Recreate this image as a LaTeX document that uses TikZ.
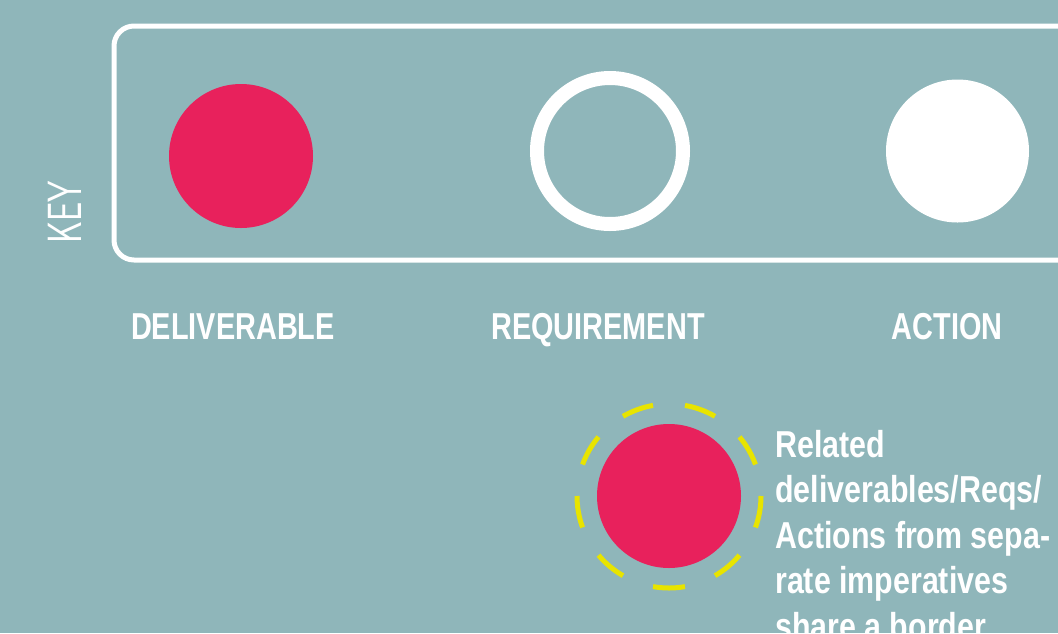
\documentclass[tikz,border=0pt]{standalone}
\usepackage{fontspec}
\usepackage{graphicx}
\usetikzlibrary{calc}
\newfontfamily\condfont[FakeStretch=0.77]{Liberation Sans}
\newfontfamily\condtext[FakeStretch=0.81]{Liberation Sans}
\definecolor{bg}{RGB}{143,182,186}
\definecolor{delred}{RGB}{232,33,92}
\definecolor{dashyellow}{RGB}{232,228,0}
\tikzset{
  keylabel/.style={text=white, font=\condfont\bfseries\fontsize{37.5}{40}\selectfont, anchor=base, inner sep=0pt},
  delivdot/.style={circle, fill=delred, minimum size=144pt, inner sep=0pt},
  reqring/.style={circle, draw=white, line width=14pt, minimum size=146pt, inner sep=0pt},
  actdot/.style={circle, fill=white, minimum size=143pt, inner sep=0pt},
  keyframe/.style={draw=white, line width=5pt, rounded corners=20pt},
  bordermark/.style={draw=dashyellow, line width=5pt},
}
\begin{document}
\begin{tikzpicture}[x=1pt, y=-1pt]
\useasboundingbox (0,0) rectangle (1058,633);
\clip (0,0) rectangle (1058,633);
\fill[bg] (0,0) rectangle (1058,633);
% key frame
\draw[keyframe] (1120,26) -- (114,26) -- (114,260) -- (1120,260);
\node[rotate=90, text=white, font=\sffamily\fontsize{48}{48}\selectfont, inner sep=0pt] (key) at (65,212.5) {\scalebox{0.71}[1]{KEY}};
% symbols
\node[delivdot] (deliv) at (241,156) {};
\node[reqring] (req) at (610,151) {};
\node[actdot] (act) at (957.5,151) {};
% labels
\node[keylabel] (delivlbl) at (233,339) {DELIVERABLE};
\node[keylabel] (reqlbl) at (598,339) {REQUIREMENT};
\node[keylabel] (actlbl) at (947,339) {ACTION};
% shared border example
\node[delivdot] (shared) at (669,496) {};
\foreach \a in {270,310,350,30,70,110,150,190,230} {
  \draw[bordermark] ($(shared.center)+(\a-10:92 and -92)$) arc[start angle=\a-10, end angle=\a+10, x radius=92, y radius=-92];
}
\node[text=white, font=\condtext\bfseries\fontsize{37.5}{45.5}\selectfont, align=left, anchor=base west, inner sep=0pt] (note) at (775,639)
  {Related\\deliverables/Reqs/\\Actions from sepa-\\rate imperatives\\share a border};
\end{tikzpicture}
\end{document}
